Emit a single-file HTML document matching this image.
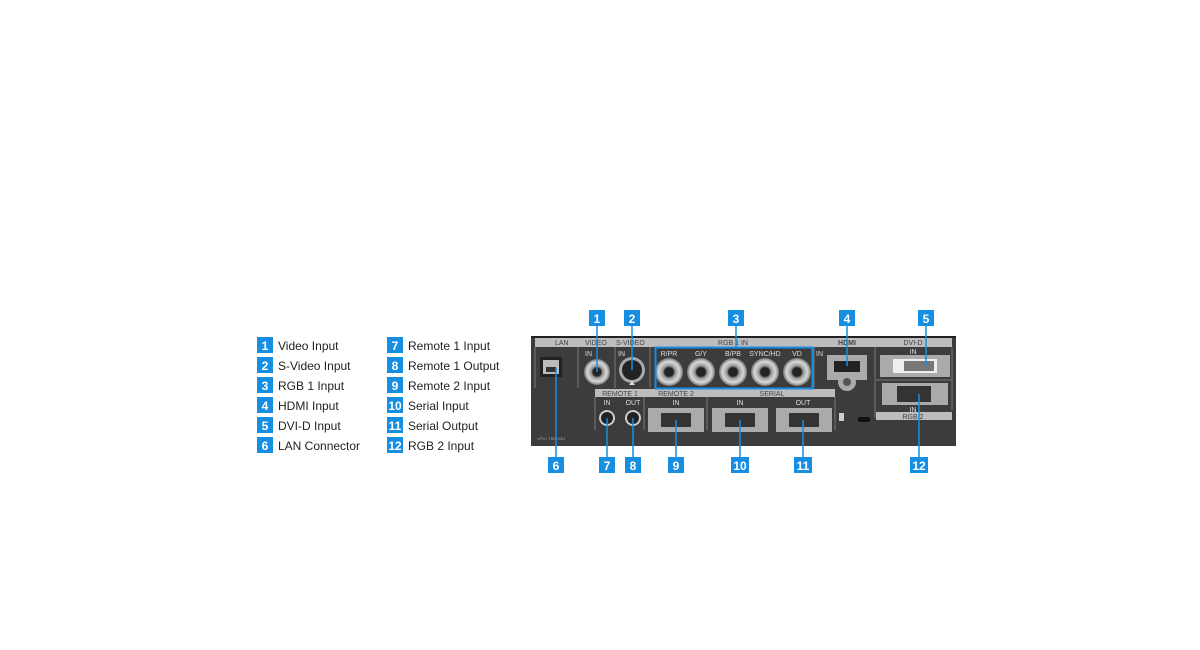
<!DOCTYPE html>
<html><head><meta charset="utf-8"><style>
html,body{margin:0;padding:0;background:#fff;width:1200px;height:650px;overflow:hidden}
svg{display:block}
.b{font-family:"Liberation Sans",sans-serif;font-weight:bold;font-size:12px;fill:#fff}
.t{font-family:"Liberation Sans",sans-serif;font-size:12px;fill:#222}
.p{font-family:"Liberation Sans",sans-serif;font-size:7px;fill:#ddd}
.s{font-family:"Liberation Sans",sans-serif;font-size:7px;fill:#444}
</style></head><body>
<svg width="1200" height="650" viewBox="0 0 1200 650">
<defs>
<radialGradient id="bnc"><stop offset="0.3" stop-color="#222"/><stop offset="0.45" stop-color="#999"/><stop offset="0.75" stop-color="#d8d8d8"/><stop offset="1" stop-color="#777"/></radialGradient>
</defs>
<!-- legend -->
<g>
<rect x="257" y="337" width="16" height="16" fill="#168ee2"/><text class="b" x="265" y="350" text-anchor="middle">1</text><text class="t" x="278" y="350">Video Input</text>
<rect x="257" y="357" width="16" height="16" fill="#168ee2"/><text class="b" x="265" y="370" text-anchor="middle">2</text><text class="t" x="278" y="370">S-Video Input</text>
<rect x="257" y="377" width="16" height="16" fill="#168ee2"/><text class="b" x="265" y="390" text-anchor="middle">3</text><text class="t" x="278" y="390">RGB 1 Input</text>
<rect x="257" y="397" width="16" height="16" fill="#168ee2"/><text class="b" x="265" y="410" text-anchor="middle">4</text><text class="t" x="278" y="410">HDMI Input</text>
<rect x="257" y="417" width="16" height="16" fill="#168ee2"/><text class="b" x="265" y="430" text-anchor="middle">5</text><text class="t" x="278" y="430">DVI-D Input</text>
<rect x="257" y="437" width="16" height="16" fill="#168ee2"/><text class="b" x="265" y="450" text-anchor="middle">6</text><text class="t" x="278" y="450">LAN Connector</text>
<rect x="387" y="337" width="16" height="16" fill="#168ee2"/><text class="b" x="395" y="350" text-anchor="middle">7</text><text class="t" x="408" y="350">Remote 1 Input</text>
<rect x="387" y="357" width="16" height="16" fill="#168ee2"/><text class="b" x="395" y="370" text-anchor="middle">8</text><text class="t" x="408" y="370">Remote 1 Output</text>
<rect x="387" y="377" width="16" height="16" fill="#168ee2"/><text class="b" x="395" y="390" text-anchor="middle">9</text><text class="t" x="408" y="390">Remote 2 Input</text>
<rect x="387" y="397" width="16" height="16" fill="#168ee2"/><text class="b" x="395" y="410" text-anchor="middle">10</text><text class="t" x="408" y="410">Serial Input</text>
<rect x="387" y="417" width="16" height="16" fill="#168ee2"/><text class="b" x="395" y="430" text-anchor="middle">11</text><text class="t" x="408" y="430">Serial Output</text>
<rect x="387" y="437" width="16" height="16" fill="#168ee2"/><text class="b" x="395" y="450" text-anchor="middle">12</text><text class="t" x="408" y="450">RGB 2 Input</text>
</g>
<!-- panel -->
<rect x="531" y="336" width="425" height="110" fill="#3c3c3c"/>
<rect x="531" y="336" width="425" height="2" fill="#222"/>
<rect x="535" y="338" width="417" height="9" fill="#bdbdbd"/>
<text class="s" x="555" y="345">LAN</text><text class="s" x="585" y="345">VIDEO</text><text class="s" x="616" y="345">S-VIDEO</text>
<text class="s" x="733" y="345" text-anchor="middle">RGB 1 IN</text><text class="s" x="847" y="345" text-anchor="middle" font-weight="bold">HDMI</text><text class="s" x="913" y="345" text-anchor="middle">DVI-D</text>
<!-- lower strips -->
<rect x="595" y="389" width="240" height="8" fill="#bdbdbd"/>
<text class="s" x="620" y="396" text-anchor="middle">REMOTE 1</text><text class="s" x="676" y="396" text-anchor="middle">REMOTE 2</text><text class="s" x="772" y="396" text-anchor="middle">SERIAL</text>
<rect x="876" y="412" width="76" height="8" fill="#bdbdbd"/><text class="s" x="913" y="419" text-anchor="middle">RGB 2</text>
<g stroke="#777" stroke-width="1"><line x1="535" y1="347" x2="535" y2="388"/><line x1="578" y1="347" x2="578" y2="388"/><line x1="615" y1="347" x2="615" y2="388"/><line x1="650" y1="347" x2="650" y2="388"/><line x1="814" y1="347" x2="814" y2="388"/><line x1="875" y1="347" x2="875" y2="418"/><line x1="952" y1="347" x2="952" y2="410"/><line x1="876" y1="380" x2="952" y2="380"/><line x1="595" y1="397" x2="595" y2="430"/><line x1="644" y1="397" x2="644" y2="430"/><line x1="707" y1="397" x2="707" y2="430"/><line x1="835" y1="397" x2="835" y2="430"/></g>
<text class="p" x="585" y="356">IN</text><text class="p" x="618" y="356">IN</text><text class="p" x="816" y="356">IN</text><text class="p" x="913" y="354" text-anchor="middle">IN</text>
<text class="p" x="607" y="405" text-anchor="middle">IN</text><text class="p" x="633" y="405" text-anchor="middle">OUT</text><text class="p" x="676" y="405" text-anchor="middle">IN</text><text class="p" x="740" y="405" text-anchor="middle">IN</text><text class="p" x="803" y="405" text-anchor="middle">OUT</text><text class="p" x="913" y="412" text-anchor="middle">IN</text>
<!-- LAN -->
<rect x="540" y="357" width="22" height="20" fill="#222"/><rect x="543" y="360" width="16" height="14" fill="#bbb"/><rect x="546" y="367" width="10" height="5" fill="#333"/>
<!-- BNCs -->
<circle cx="597" cy="372" r="13" fill="url(#bnc)"/>
<circle cx="632" cy="370" r="13" fill="#aaa"/><circle cx="632" cy="370" r="10" fill="#222"/><polygon points="629,385 635,385 632,381" fill="#ddd"/>
<text class="p" x="669" y="356" text-anchor="middle">R/PR</text><text class="p" x="701" y="356" text-anchor="middle">G/Y</text><text class="p" x="733" y="356" text-anchor="middle">B/PB</text><text class="p" x="765" y="356" text-anchor="middle">SYNC/HD</text><text class="p" x="797" y="356" text-anchor="middle">VD</text>
<circle cx="669" cy="372" r="14" fill="url(#bnc)"/><circle cx="701" cy="372" r="14" fill="url(#bnc)"/><circle cx="733" cy="372" r="14" fill="url(#bnc)"/><circle cx="765" cy="372" r="14" fill="url(#bnc)"/><circle cx="797" cy="372" r="14" fill="url(#bnc)"/>
<rect x="655.5" y="347.5" width="157" height="41" fill="none" stroke="#168ee2" stroke-width="2"/>
<!-- HDMI -->
<rect x="827" y="355" width="40" height="25" fill="#aaa"/><rect x="834" y="361" width="26" height="11" fill="#222"/><circle cx="847" cy="382" r="9" fill="#aaa"/><circle cx="847" cy="382" r="4" fill="#555"/>
<!-- DVI -->
<rect x="880" y="355" width="70" height="22" fill="#aaa"/><rect x="893" y="359" width="44" height="14" fill="#eee"/><rect x="904" y="361" width="30" height="10" fill="#777"/>
<!-- RGB2 -->
<rect x="882" y="383" width="66" height="22" fill="#aaa"/><rect x="897" y="386" width="34" height="16" fill="#333"/>
<!-- remote jacks -->
<circle cx="607" cy="418" r="8" fill="#ccc"/><circle cx="607" cy="418" r="6" fill="#222"/>
<circle cx="633" cy="418" r="8" fill="#ccc"/><circle cx="633" cy="418" r="6" fill="#222"/>
<!-- dsub9 -->
<rect x="648" y="408" width="56" height="24" fill="#aaa"/><rect x="661" y="413" width="30" height="14" fill="#333"/>
<rect x="712" y="408" width="56" height="24" fill="#aaa"/><rect x="725" y="413" width="30" height="14" fill="#333"/>
<rect x="776" y="408" width="56" height="24" fill="#aaa"/><rect x="789" y="413" width="30" height="14" fill="#333"/>
<rect x="839" y="413" width="5" height="8" fill="#ccc"/><rect x="858" y="417" width="12" height="5" rx="2" fill="#111"/>
<text x="537" y="440" font-family="Liberation Sans" font-size="4" fill="#aaa">&gt;PC&lt; TBN0281</text>
<!-- leader lines -->
<g stroke="#168ee2" stroke-width="1.5">
<line x1="597" y1="326" x2="597" y2="372"/><line x1="632" y1="326" x2="632" y2="370"/><line x1="736" y1="326" x2="736" y2="348"/><line x1="847" y1="326" x2="847" y2="366"/><line x1="926" y1="326" x2="926" y2="366"/>
<line x1="556" y1="368" x2="556" y2="458"/><line x1="607" y1="418" x2="607" y2="458"/><line x1="633" y1="418" x2="633" y2="458"/><line x1="676" y1="420" x2="676" y2="458"/><line x1="740" y1="420" x2="740" y2="458"/><line x1="803" y1="420" x2="803" y2="458"/><line x1="919" y1="394" x2="919" y2="458"/>
</g>
<!-- badges -->
<g>
<rect x="589" y="310" width="16" height="16" fill="#168ee2"/><text class="b" x="597" y="323" text-anchor="middle">1</text>
<rect x="624" y="310" width="16" height="16" fill="#168ee2"/><text class="b" x="632" y="323" text-anchor="middle">2</text>
<rect x="728" y="310" width="16" height="16" fill="#168ee2"/><text class="b" x="736" y="323" text-anchor="middle">3</text>
<rect x="839" y="310" width="16" height="16" fill="#168ee2"/><text class="b" x="847" y="323" text-anchor="middle">4</text>
<rect x="918" y="310" width="16" height="16" fill="#168ee2"/><text class="b" x="926" y="323" text-anchor="middle">5</text>
<rect x="548" y="457" width="16" height="16" fill="#168ee2"/><text class="b" x="556" y="470" text-anchor="middle">6</text>
<rect x="599" y="457" width="16" height="16" fill="#168ee2"/><text class="b" x="607" y="470" text-anchor="middle">7</text>
<rect x="625" y="457" width="16" height="16" fill="#168ee2"/><text class="b" x="633" y="470" text-anchor="middle">8</text>
<rect x="668" y="457" width="16" height="16" fill="#168ee2"/><text class="b" x="676" y="470" text-anchor="middle">9</text>
<rect x="731" y="457" width="18" height="16" fill="#168ee2"/><text class="b" x="740" y="470" text-anchor="middle">10</text>
<rect x="794" y="457" width="18" height="16" fill="#168ee2"/><text class="b" x="803" y="470" text-anchor="middle">11</text>
<rect x="910" y="457" width="18" height="16" fill="#168ee2"/><text class="b" x="919" y="470" text-anchor="middle">12</text>
</g>
</svg>
</body></html>
